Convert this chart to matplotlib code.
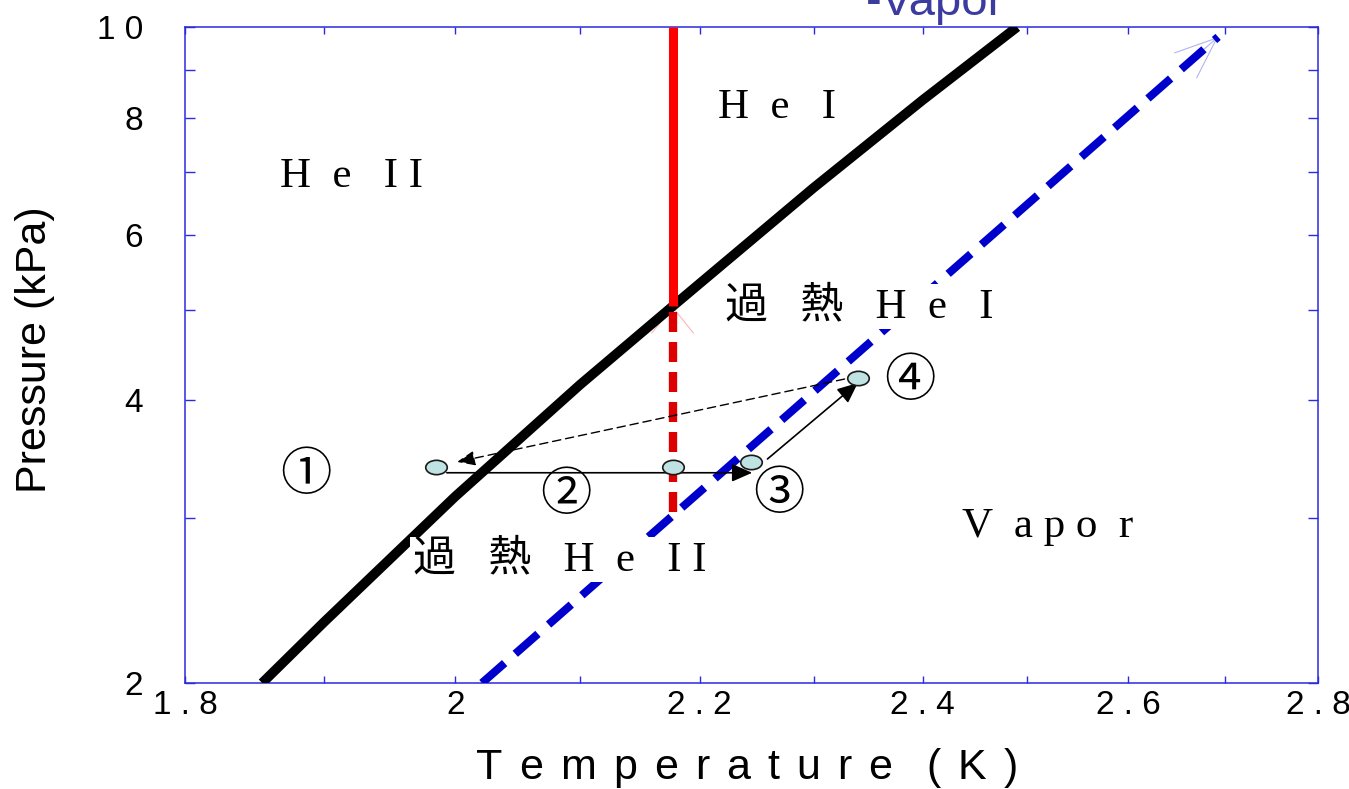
import math
import matplotlib
matplotlib.use('Agg')
import matplotlib.pyplot as plt
from matplotlib.path import Path
from matplotlib.transforms import Affine2D
from matplotlib.ticker import FixedLocator, FixedFormatter, NullFormatter

# saturated vapour pressure of He (black line)
svp_t = [1.855, 1.9, 2.0, 2.1, 2.177, 2.3, 2.4, 2.49]
svp_p = [2.0, 2.32, 3.16, 4.16, 5.04, 6.74, 8.36, 10.0]

# lambda line (red), solid part and superheated (dashed) part
lam_t = [2.177, 2.177]
lam_p = [10.0, 5.04]
lam_sh_t = [2.177, 2.177]
lam_sh_p = [3.04, 5.04]

# superheat limit (blue dashed arrow)
lim_t = [2.021, 2.693]
lim_p = [2.0, 9.76]

# states 1-4
state_t = [1.985, 2.177, 2.2445, 2.340]
state_p = [3.40, 3.40, 3.44, 4.23]

# process arrows (t0, p0, t1, p1)
arrow_heat = (1.9935, 3.35, 2.2456, 3.35)
arrow_up = (2.259, 3.465, 2.340, 4.175)
arrow_back = (2.328, 4.216, 2.0014, 3.44)

xticks = [1.8, 2.0, 2.2, 2.4, 2.6, 2.8]
xticklabels = ['1 . 8', '2', '2 . 2', '2 . 4', '2 . 6', '2 . 8']
xminor = [1.9, 2.1, 2.3, 2.5, 2.7]
yticks = [2, 4, 6, 8, 10]
yticklabels = ['2', '4', '6', '8', '1 0']
yminor = [3, 5, 7, 9]

W, H = 1349, 789
SANS = ['Liberation Sans', 'DejaVu Sans']
SERIF = ['Liberation Serif', 'Noto Sans CJK JP']
JP = ['Noto Sans CJK JP', 'DejaVu Sans']
SPINE = '#2a2ae0'


def fpx(x, y):
    # pixel position -> figure fraction
    return x / W, 1 - y / H


def log_back(t0, p0, t1, p1, frac):
    # point a little way back from (t1, p1) along a straight log-log line
    lt = math.log(t1) - frac * (math.log(t1) - math.log(t0))
    lp = math.log(p1) - frac * (math.log(p1) - math.log(p0))
    return math.exp(lt), math.exp(lp)


fig = plt.figure(figsize=(W / 100, H / 100), dpi=100)
ax = fig.add_axes([185 / W, 1 - 683 / H, (1318 - 185) / W, (683 - 27) / H])
ax.set_xscale('log')
ax.set_yscale('log')
ax.set_xlim(1.8, 2.8)
ax.set_ylim(2, 10)

ax.plot(svp_t, svp_p, color='black', lw=7.0, solid_capstyle='butt', zorder=3)
ax.plot(lam_t, lam_p, color='#ff0000', lw=6.5, solid_capstyle='butt', zorder=3)
ax.plot(lam_sh_t, lam_sh_p, color='#dd0000', lw=6.0, linestyle=(0, (2.4, 1.2)),
        dash_capstyle='butt', zorder=3)
ax.plot(lim_t, lim_p, color='#0000cc', lw=5.8, linestyle=(0, (3.75, 1.75)),
        dash_capstyle='butt', zorder=3)

# thin open arrow heads at line ends
ax.annotate('', xy=(lam_sh_t[1], lam_sh_p[1]), xytext=(2.177, 4.85),
            arrowprops=dict(arrowstyle='->,head_length=1.87,head_width=1.5',
                            color='#ffb4b4', lw=0.8, shrinkA=0, shrinkB=0,
                            mutation_scale=10), zorder=2)
ax.annotate('', xy=(lim_t[1], lim_p[1]),
            xytext=log_back(lim_t[0], lim_p[0], lim_t[1], lim_p[1], 0.02),
            arrowprops=dict(arrowstyle='->,head_length=3.0,head_width=1.2',
                            color='#b0b4f0', lw=0.8, shrinkA=0, shrinkB=0,
                            mutation_scale=10), zorder=2)

for t0, p0, t1, p1 in [arrow_heat, arrow_up]:
    ax.annotate('', xy=(t1, p1), xytext=(t0, p0),
                arrowprops=dict(arrowstyle='-|>,head_length=1.25,head_width=0.55',
                                color='black', lw=1.2, shrinkA=0, shrinkB=0,
                                mutation_scale=10), zorder=4)
t0, p0, t1, p1 = arrow_back
ax.annotate('', xy=(t1, p1), xytext=(t0, p0),
            arrowprops=dict(arrowstyle='-|>,head_length=1.1,head_width=0.45',
                            color='black', lw=1.0, linestyle=(0, (6, 3.5)),
                            shrinkA=0, shrinkB=0, mutation_scale=10), zorder=4)

ellipse = Path.unit_circle().transformed(Affine2D().scale(1.5, 1.0))
ax.plot(state_t, state_p, linestyle='none', marker=ellipse, markersize=15.5,
        markerfacecolor='#bfe2e2', markeredgecolor='#1a1a1a', markeredgewidth=1.2,
        zorder=5)

# axes styling
ax.xaxis.set_major_locator(FixedLocator(xticks))
ax.xaxis.set_major_formatter(FixedFormatter(xticklabels))
ax.xaxis.set_minor_locator(FixedLocator(xminor))
ax.xaxis.set_minor_formatter(NullFormatter())
ax.yaxis.set_major_locator(FixedLocator(yticks))
ax.yaxis.set_major_formatter(FixedFormatter(yticklabels))
ax.yaxis.set_minor_locator(FixedLocator(yminor))
ax.yaxis.set_minor_formatter(NullFormatter())
for s in ax.spines.values():
    s.set_color(SPINE)
    s.set_linewidth(1.1)
ax.tick_params(axis='both', which='both', direction='in', top=True, right=True,
               color=SPINE, width=1.0, labelsize=24)
ax.tick_params(axis='x', which='both', length=5, pad=5)
ax.tick_params(axis='y', which='both', length=7.5, pad=30)
for lab in ax.get_xticklabels() + ax.get_yticklabels():
    lab.set_family(SANS)

renderer = fig.canvas.get_renderer()


def spaced_text(x, y, s, track, **kw):
    # letter-spaced text; a blank adds one more track
    for ch in s:
        if ch == ' ':
            x += track
            continue
        t = fig.text(*fpx(x, y), ch, ha='left', va='baseline', **kw)
        x += t.get_window_extent(renderer).width + track


# labels
fig.text(*fpx(35, 350), 'Pressure (kPa)', rotation=90, ha='center', va='center',
         fontsize=31, family=SANS)
spaced_text(476, 779, 'Temperature (K)', 17.0, fontsize=31, family=SANS)
fig.text(*fpx(866, 15), '-Vapor', ha='left', va='baseline', fontsize=34,
         color='#3c3ca0', family=SANS)

# region names
fig.text(*fpx(718, 118), 'H  e   I', ha='left', va='baseline', fontsize=31, family=SERIF)
fig.text(*fpx(280, 187), 'H  e   I I', ha='left', va='baseline', fontsize=31, family=SERIF)
fig.text(*fpx(962, 537), 'V  a p o  r', ha='left', va='baseline', fontsize=31, family=SERIF)
fig.text(*fpx(725, 317), '過   熱   H  e   I', ha='left', va='baseline', fontsize=31,
         family=SERIF, bbox=dict(facecolor='white', edgecolor='none', pad=2))
fig.text(*fpx(413, 570), '過   熱   H  e   I I', ha='left', va='baseline', fontsize=31,
         family=SERIF, bbox=dict(facecolor='white', edgecolor='none', pad=2))

# state numbers
for s, (x, y) in zip(['①', '②', '③', '④'], [(306, 475), (566, 495), (779, 494), (910, 381)]):
    fig.text(*fpx(x, y), s, ha='center', va='center', fontsize=37, family=JP)

fig.savefig('out.png', dpi=100)
